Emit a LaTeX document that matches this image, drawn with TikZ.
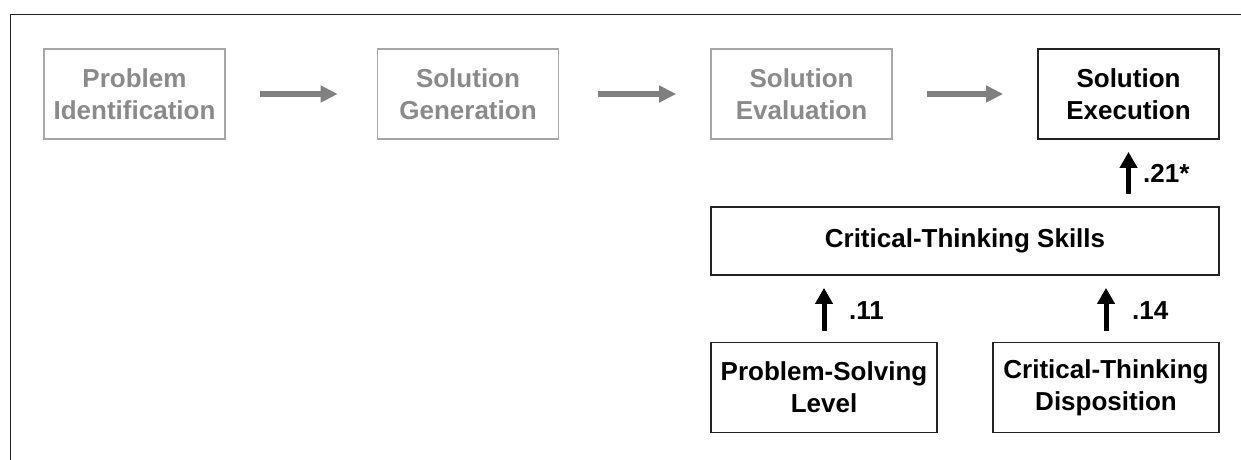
\documentclass[tikz,border=0pt]{standalone}
\usepackage{fontspec}
\setmainfont{Liberation Sans}
\usetikzlibrary{arrows.meta}
\definecolor{graytext}{HTML}{8A8A8A}
\definecolor{grayline}{HTML}{A6A6A6}
\definecolor{grayarrow}{HTML}{808080}
\definecolor{darkline}{HTML}{222222}
\begin{document}
\begin{tikzpicture}[x=1pt,y=-1pt,
  every node/.style={font=\fontsize{26}{32}\selectfont\bfseries, inner sep=0pt, align=center},
  graybox/.style={draw=grayline, line width=1.6pt, text=graytext, minimum width=181pt, minimum height=90pt},
  blackbox/.style={draw=darkline, line width=1.8pt, text=black},
  grayarr/.style={draw=grayarrow, line width=5.5pt, -{Triangle[length=17pt,width=16pt]}},
  blackarr/.style={draw=black, line width=5pt, -{Triangle[length=16pt,width=17pt]}},
  coef/.style={anchor=west, text=black}]
\useasboundingbox (0,0) rectangle (1241,460);
% frame (top and left only)
\draw[darkline, line width=1.5pt] (10.5,460) -- (10.5,14.5) -- (1241,14.5);
% top row
\node[graybox] (pi) at (134.5,94) {Problem\\Identification};
\node[graybox] (sg) at (468,94) {Solution\\Generation};
\node[graybox] (sv) at (801.5,94) {Solution\\Evaluation};
\node[blackbox, minimum width=181pt, minimum height=90pt] (se) at (1128.5,94) {Solution\\Execution};
\draw[grayarr, shorten <=34pt, shorten >=39pt] (pi) -- (sg);
\draw[grayarr, shorten <=39pt, shorten >=34pt] (sg) -- (sv);
\draw[grayarr, shorten <=34pt, shorten >=34pt] (sv) -- (se);
% critical thinking skills
\node[blackbox, minimum width=508pt, minimum height=68pt] (cts) at (965,241) {Critical-Thinking Skills};
\node[blackbox, minimum width=226pt, minimum height=90pt] (psl) at (824,387.5) {Problem-Solving\\Level};
\node[blackbox, minimum width=226pt, minimum height=90pt] (ctd) at (1106,387.5) {Critical-Thinking\\Disposition};
% arrows
\coordinate (a1) at (psl.north |- cts.south);
\coordinate (a2) at (ctd.north |- cts.south);
\coordinate (a3) at (se.south |- cts.north);
\draw[blackarr, shorten <=11pt, shorten >=12pt] (psl.north) -- (a1);
\draw[blackarr, shorten <=11pt, shorten >=12pt] (ctd.north) -- (a2);
\draw[blackarr, shorten <=12pt, shorten >=12pt] (a3) -- (se.south);
\node[coef] (c1) at (849,311) {.11};
\node[coef] (c2) at (1132,311) {.14};
\node[coef] (c3) at (1143,173) {.21*};
\end{tikzpicture}
\end{document}
